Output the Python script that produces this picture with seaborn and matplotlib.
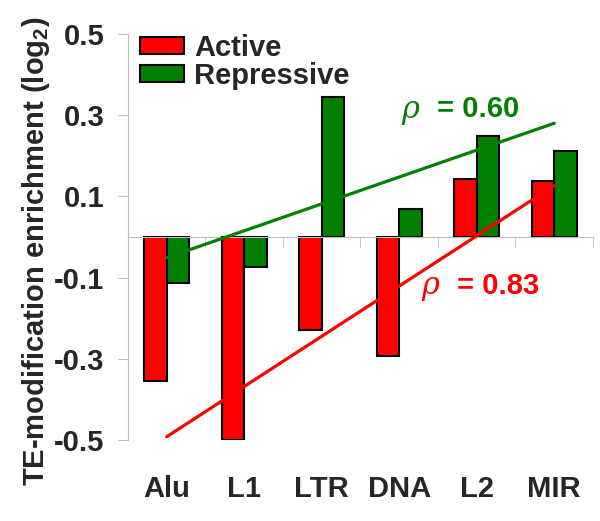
import numpy as np
import pandas as pd
import seaborn as sns
import matplotlib.pyplot as plt
from matplotlib.patches import Patch

# data
categories = ['Alu', 'L1', 'LTR', 'DNA', 'L2', 'MIR']
active = [-0.355, -0.500, -0.229, -0.293, 0.143, 0.138]
repressive = [-0.113, -0.074, 0.345, 0.069, 0.249, 0.212]
ytick_values = [-0.5, -0.3, -0.1, 0.1, 0.3, 0.5]
ytick_labels = ['-0.5', '-0.3', '-0.1', '0.1', '0.3', '0.5']
rho_active = '0.83'
rho_repressive = '0.60'

red = '#ff0000'
green = '#008000'
FS = 21

df = pd.DataFrame({
    'TE': categories * 2,
    'value': active + repressive,
    'mark': ['Active'] * len(active) + ['Repressive'] * len(repressive),
})

sns.set_style('white')
plt.rcParams['font.family'] = ['Liberation Sans', 'DejaVu Sans']
plt.rcParams['font.weight'] = 'bold'
plt.rcParams['mathtext.fontset'] = 'custom'
plt.rcParams['mathtext.rm'] = 'Liberation Sans:bold'
plt.rcParams['mathtext.default'] = 'rm'

fig = plt.figure(figsize=(6, 5.21), dpi=100)
ax = fig.add_axes([0.2133, 0.1555, 0.775, 0.7792])

sns.barplot(data=df, x='TE', y='value', hue='mark',
            palette={'Active': red, 'Repressive': green},
            width=0.58, edgecolor='black', linewidth=1.5,
            saturation=1, legend=False, ax=ax)

# linear trend lines over category index
xs = np.arange(len(categories))
for vals, col in [(repressive, green), (active, red)]:
    p = np.polyfit(xs, vals, 1)
    ends = xs[[0, -1]]
    ax.plot(ends, np.polyval(p, ends), color=col, lw=2.3, zorder=5)

ax.set_xlim(-0.5, len(categories) - 0.5)
ax.set_ylim(-0.5, 0.5)
ax.set_yticks(ytick_values)
ax.set_yticklabels(ytick_labels, fontsize=FS, fontweight='bold')
ax.set_xlabel('')
ax.set_ylabel(r'TE-modification enrichment (log$_2$)', fontsize=FS,
              fontweight='bold')
ax.yaxis.set_label_coords(-0.163, 0.465)

for s in ['top', 'right']:
    ax.spines[s].set_visible(False)
ax.spines['bottom'].set_position(('data', 0))
ax.spines['bottom'].set_color('#bfbfbf')
ax.spines['left'].set_color('#bfbfbf')

ax.tick_params(axis='y', length=7, color='#bfbfbf', pad=10, left=True)
ax.tick_params(axis='x', which='major', length=0, pad=171, labelsize=FS)
ax.set_xticks(np.arange(0.5, len(categories), 1), minor=True)
ax.tick_params(axis='x', which='minor', direction='out', length=7,
               color='#bfbfbf', bottom=True)
for lab in ax.get_xticklabels():
    lab.set_fontweight('bold')

# correlation annotations
ax.text(3.03, 0.315, 'ρ', color=green, fontsize=22, ha='left', va='center',
        fontfamily='DejaVu Serif', fontstyle='italic', fontweight='normal')
ax.text(3.49, 0.315, '= ' + rho_repressive, color=green, fontsize=FS,
        ha='left', va='center', fontweight='bold')
ax.text(3.29, -0.12, 'ρ', color=red, fontsize=22, ha='left', va='center',
        fontfamily='DejaVu Serif', fontstyle='italic', fontweight='normal')
ax.text(3.745, -0.12, '= ' + rho_active, color=red, fontsize=FS,
        ha='left', va='center', fontweight='bold')

handles = [Patch(facecolor=red, edgecolor='black', linewidth=1.5),
           Patch(facecolor=green, edgecolor='black', linewidth=1.5)]
ax.legend(handles, ['Active', 'Repressive'], loc='upper left',
          bbox_to_anchor=(140 / 600, 1 - 34 / 521), bbox_transform=fig.transFigure,
          frameon=False, handlelength=1.5, handleheight=0.55,
          handletextpad=0.35, labelspacing=0.0, borderaxespad=0, borderpad=0,
          prop={'weight': 'bold', 'size': FS})

fig.savefig('out.png', dpi=100)
